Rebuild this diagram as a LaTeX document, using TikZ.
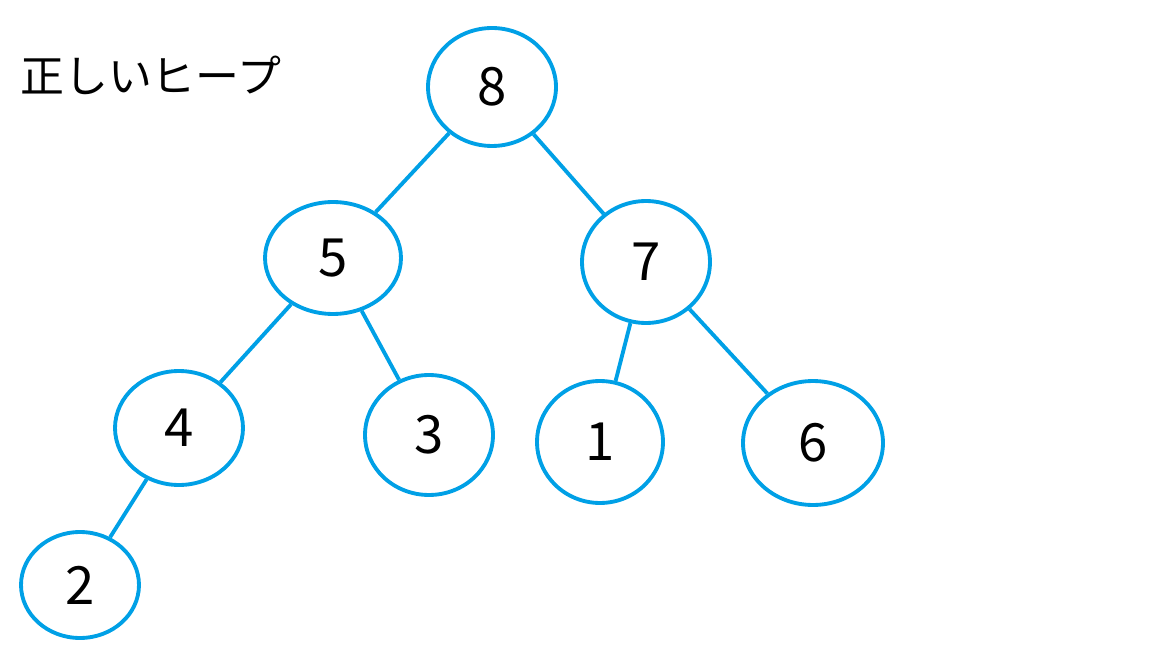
\documentclass[tikz,border=0pt]{standalone}
\usepackage{fontspec}
\setmainfont{Noto Sans CJK JP}
\usetikzlibrary{shapes.geometric}
\definecolor{heapblue}{RGB}{0,160,230}
\begin{document}
\begin{tikzpicture}
  [
    x=0.02cm, y=-0.02cm,
    Heap/.style={ellipse, draw=heapblue, line width=2.2pt, inner sep=0pt, font=\fontsize{30}{30}\selectfont},
    Edge/.style={draw=heapblue, line width=2.2pt}
  ]
  \useasboundingbox (0,0) rectangle (1152,648);
  % Title
  \node[anchor=west, font=\fontsize{25}{25}\selectfont] (title) at (14,75) {正しいヒープ};
  % Nodes
  \node[Heap, minimum width=2.56cm, minimum height=2.36cm] (n8) at (492,87) {8};
  \node[Heap, minimum width=2.72cm, minimum height=2.24cm] (n5) at (333,258) {5};
  \node[Heap, minimum width=2.56cm, minimum height=2.44cm] (n7) at (646,262) {7};
  \node[Heap, minimum width=2.56cm, minimum height=2.28cm] (n4) at (179,428) {4};
  \node[Heap, minimum width=2.56cm, minimum height=2.40cm] (n3) at (429,435) {3};
  \node[Heap, minimum width=2.52cm, minimum height=2.44cm] (n1) at (600,442) {1};
  \node[Heap, minimum width=2.80cm, minimum height=2.48cm] (n6) at (813,443) {6};
  \node[Heap, minimum width=2.36cm, minimum height=2.12cm] (n2) at (80,585) {2};
  % Lines
  \path [Edge] (n8) -- (n5);
  \path [Edge] (n8) -- (n7);
  \path [Edge] (n5) -- (n4);
  \path [Edge] (n5) -- (n3);
  \path [Edge] (n7) -- (n1);
  \path [Edge] (n7) -- (n6);
  \path [Edge] (n4) -- (n2);
\end{tikzpicture}
\end{document}
